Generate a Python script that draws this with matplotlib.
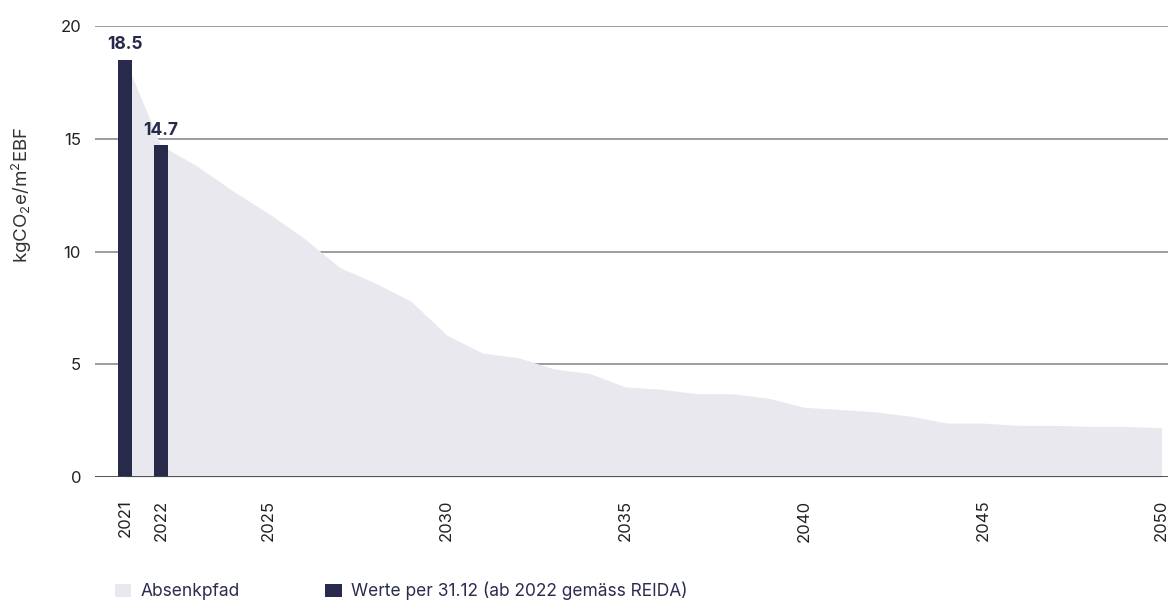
import matplotlib
matplotlib.use("Agg")
import matplotlib.pyplot as plt
from matplotlib.patches import Patch

# ---- data ----
path_years = list(range(2021, 2051))
path_values = [18.5, 14.7, 13.8, 12.7, 11.7, 10.6, 9.3, 8.6, 7.8, 6.3,
               5.5, 5.3, 4.8, 4.6, 4.0, 3.9, 3.7, 3.7, 3.5, 3.1,
               3.0, 2.9, 2.7, 2.4, 2.4, 2.3, 2.3, 2.25, 2.25, 2.2]
bar_years = [2021, 2022]
bar_values = [18.5, 14.7]
bar_labels = ["18.5", "14.7"]
xtick_years = [2021, 2022, 2025, 2030, 2035, 2040, 2045, 2050]
ytick_values = [0, 5, 10, 15, 20]
ylabel = r"kgCO$_2$e/m$^2$EBF"
legend_labels = ["Absenkpfad", "Werte per 31.12 (ab 2022 gemäss REIDA)"]

NAVY = "#272a4b"
AREA = "#e8e8ee"
GRID = "#8c8c8c"
TEXT = "#222222"
FONT = "Inter"

plt.rcParams["font.family"] = [FONT, "DejaVu Sans"]
plt.rcParams["mathtext.fontset"] = "custom"
plt.rcParams["mathtext.rm"] = FONT
plt.rcParams["mathtext.it"] = FONT
plt.rcParams["mathtext.bf"] = FONT + ":bold"

W, H = 1168, 601
fig = plt.figure(figsize=(W / 100, H / 100), dpi=100)
left_px, right_px, top_px, bottom_px = 95, 1168, 25.7, 477.3
ax = fig.add_axes([left_px / W, 1 - bottom_px / H,
                   (right_px - left_px) / W, (bottom_px - top_px) / H])

ax.fill_between(path_years, path_values, 0, color=AREA, linewidth=0, zorder=2)
ax.bar(bar_years, bar_values, width=0.39, color=NAVY, zorder=3)
for x, v, t in zip(bar_years, bar_values, bar_labels):
    ax.text(x, v + 0.3, t, ha="center", va="bottom", fontsize=12.5,
            fontweight="bold", color=NAVY, zorder=5, clip_on=False)

for y in ytick_values[1:]:
    ax.axhline(y, color=GRID, linewidth=1.2, zorder=1)
ax.axhline(0, color="#444444", linewidth=1.3, zorder=4)

ax.set_xlim(2020.16, 2050.18)
ax.set_ylim(0, 20)
ax.set_xticks(xtick_years)
ax.set_xticklabels([str(y) for y in xtick_years], rotation=90, fontsize=12,
                   color=TEXT)
ax.set_yticks(ytick_values)
ax.set_yticklabels([str(v) for v in ytick_values], fontsize=12, color=TEXT)
ax.tick_params(axis="x", length=0, pad=16)
ax.tick_params(axis="y", length=0, pad=10)
for s in ax.spines.values():
    s.set_visible(False)

fig.text(22 / W, 1 - 195 / H, ylabel, rotation=90, ha="center", va="center",
         fontsize=13.5, color="#333333")

handles = [Patch(facecolor=AREA, edgecolor="none"),
           Patch(facecolor=NAVY, edgecolor="none")]
fig.legend(handles, legend_labels, loc="center left",
           bbox_to_anchor=(115 / W, 1 - 591 / H), ncol=2, frameon=False,
           fontsize=12.5, handlelength=0.95, handleheight=0.78,
           handletextpad=0.55, columnspacing=4.9, labelcolor="#2b2d4f",
           borderaxespad=0, borderpad=0)

fig.savefig("out.png", dpi=100)
